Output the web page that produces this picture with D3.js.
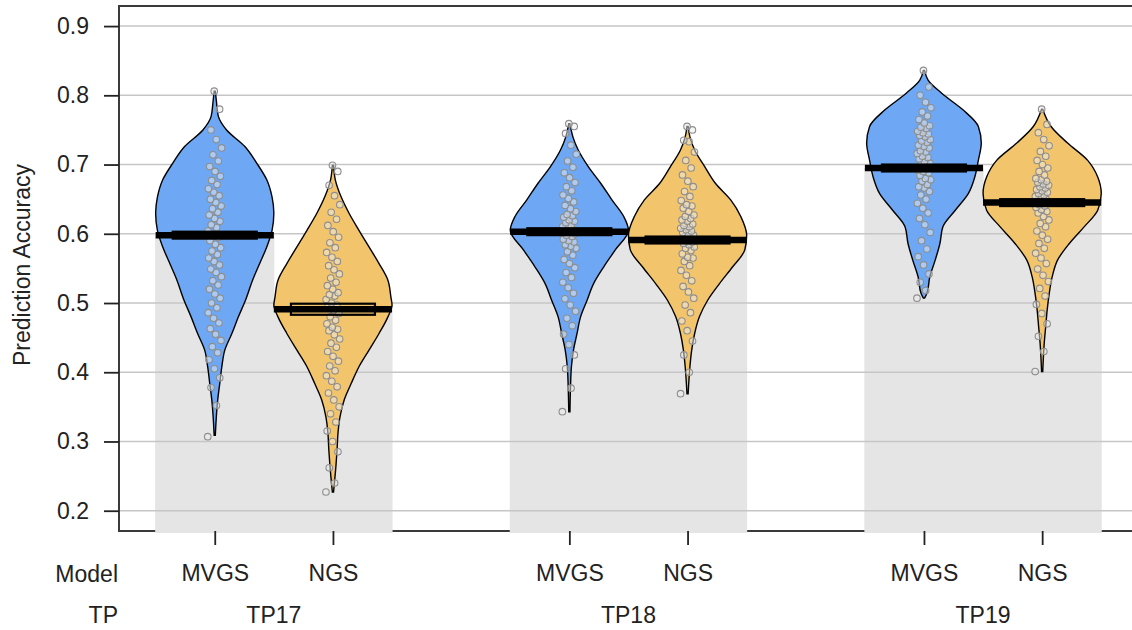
<!DOCTYPE html>
<html>
<head>
<meta charset="utf-8">
<script src="https://cdn.jsdelivr.net/npm/d3@7"></script>
<style>
  html, body { margin: 0; padding: 0; background: #fff; }
  svg { display: block; font-family: 'Liberation Sans', Arial, sans-serif; }
</style>
</head>
<body>
<div id="chart"></div>
<script>
// ---- data ----
const tps = ['TP17', 'TP18', 'TP19'];
const models = ['MVGS', 'NGS'];
const yTicks = [0.2, 0.3, 0.4, 0.5, 0.6, 0.7, 0.8, 0.9];

// mean (avg line + bar height), and inference band
const means = [0.598, 0.491, 0.603, 0.591, 0.695, 0.645];
const infLow = [0.593, 0.483, 0.598, 0.586, 0.690, 0.640];
const infHigh = [0.603, 0.499, 0.608, 0.596, 0.700, 0.650];

// bean outlines: [value, relative density]
const dens17M = [[0.309, 0.01], [0.36, 0.05], [0.384, 0.085], [0.408, 0.12], [0.432, 0.17], [0.456, 0.29], [0.48, 0.4], [0.504, 0.52], [0.533, 0.64], [0.557, 0.76], [0.581, 0.88], [0.605, 0.97], [0.63, 1.0], [0.653, 0.97], [0.678, 0.88], [0.702, 0.71], [0.726, 0.51], [0.75, 0.2], [0.77, 0.06], [0.79, 0.03], [0.806, 0.01]];
const dens17N = [[0.227, 0.01], [0.264, 0.05], [0.288, 0.07], [0.312, 0.085], [0.336, 0.12], [0.36, 0.19], [0.384, 0.31], [0.408, 0.44], [0.432, 0.61], [0.456, 0.78], [0.48, 0.93], [0.497, 1.0], [0.509, 0.98], [0.533, 0.93], [0.557, 0.78], [0.581, 0.61], [0.605, 0.44], [0.63, 0.27], [0.653, 0.14], [0.678, 0.04], [0.699, 0.01]];
const dens18M = [[0.343, 0.01], [0.38, 0.02], [0.408, 0.035], [0.432, 0.07], [0.456, 0.13], [0.48, 0.19], [0.504, 0.3], [0.528, 0.41], [0.552, 0.58], [0.577, 0.78], [0.605, 1.0], [0.625, 0.92], [0.649, 0.72], [0.673, 0.53], [0.697, 0.32], [0.721, 0.15], [0.74, 0.06], [0.759, 0.01]];
const dens18N = [[0.369, 0.01], [0.408, 0.04], [0.432, 0.07], [0.456, 0.12], [0.48, 0.2], [0.504, 0.34], [0.528, 0.54], [0.552, 0.76], [0.577, 0.97], [0.598, 1.0], [0.625, 0.9], [0.649, 0.73], [0.673, 0.47], [0.697, 0.29], [0.721, 0.12], [0.74, 0.04], [0.755, 0.01]];
const dens19M = [[0.507, 0.01], [0.514, 0.05], [0.538, 0.1], [0.562, 0.19], [0.586, 0.27], [0.61, 0.32], [0.634, 0.53], [0.658, 0.75], [0.682, 0.86], [0.706, 0.92], [0.731, 0.97], [0.755, 0.92], [0.779, 0.66], [0.803, 0.3], [0.822, 0.07], [0.836, 0.01]];
const dens19N = [[0.401, 0.01], [0.442, 0.035], [0.466, 0.06], [0.49, 0.085], [0.514, 0.12], [0.538, 0.17], [0.562, 0.26], [0.586, 0.46], [0.61, 0.71], [0.634, 0.94], [0.658, 1.0], [0.682, 0.94], [0.706, 0.77], [0.731, 0.43], [0.755, 0.15], [0.78, 0.01]];

// raw accuracies (points)
const pts17M = [0.307, 0.352, 0.378, 0.392, 0.405, 0.418, 0.428, 0.437, 0.446, 0.455, 0.463, 0.471, 0.478, 0.486, 0.493, 0.5, 0.507, 0.513, 0.52, 0.526, 0.532, 0.538, 0.544, 0.549, 0.555, 0.56, 0.565, 0.57, 0.575, 0.58, 0.585, 0.59, 0.595, 0.6, 0.604, 0.609, 0.613, 0.618, 0.622, 0.627, 0.631, 0.636, 0.64, 0.645, 0.65, 0.655, 0.66, 0.665, 0.671, 0.677, 0.683, 0.69, 0.697, 0.705, 0.714, 0.724, 0.736, 0.75, 0.78, 0.806];
const pts17N = [0.227, 0.24, 0.262, 0.285, 0.3, 0.315, 0.328, 0.34, 0.35, 0.36, 0.37, 0.379, 0.387, 0.395, 0.402, 0.409, 0.416, 0.423, 0.43, 0.436, 0.442, 0.448, 0.454, 0.46, 0.462, 0.465, 0.47, 0.475, 0.48, 0.485, 0.49, 0.495, 0.497, 0.5, 0.505, 0.51, 0.512, 0.515, 0.52, 0.525, 0.53, 0.536, 0.542, 0.548, 0.554, 0.56, 0.566, 0.573, 0.58, 0.587, 0.595, 0.603, 0.612, 0.621, 0.631, 0.642, 0.655, 0.67, 0.69, 0.699];
const pts18M = [0.343, 0.377, 0.405, 0.425, 0.44, 0.455, 0.467, 0.478, 0.488, 0.497, 0.506, 0.514, 0.522, 0.53, 0.537, 0.544, 0.551, 0.557, 0.563, 0.569, 0.574, 0.579, 0.582, 0.584, 0.588, 0.59, 0.592, 0.596, 0.598, 0.6, 0.602, 0.604, 0.606, 0.608, 0.61, 0.612, 0.616, 0.618, 0.62, 0.624, 0.626, 0.628, 0.632, 0.636, 0.641, 0.646, 0.651, 0.656, 0.662, 0.668, 0.674, 0.681, 0.688, 0.696, 0.705, 0.715, 0.728, 0.745, 0.755, 0.759];
const pts18N = [0.369, 0.4, 0.425, 0.445, 0.46, 0.474, 0.486, 0.497, 0.507, 0.516, 0.524, 0.532, 0.54, 0.547, 0.554, 0.56, 0.565, 0.566, 0.571, 0.576, 0.579, 0.581, 0.584, 0.586, 0.588, 0.59, 0.592, 0.594, 0.596, 0.598, 0.6, 0.602, 0.604, 0.606, 0.608, 0.61, 0.612, 0.614, 0.618, 0.62, 0.622, 0.625, 0.627, 0.632, 0.637, 0.64, 0.642, 0.648, 0.654, 0.661, 0.668, 0.676, 0.685, 0.695, 0.706, 0.718, 0.733, 0.735, 0.75, 0.755];
const pts19M = [0.507, 0.518, 0.53, 0.542, 0.555, 0.567, 0.578, 0.59, 0.602, 0.613, 0.622, 0.63, 0.637, 0.644, 0.65, 0.656, 0.661, 0.666, 0.668, 0.671, 0.676, 0.678, 0.68, 0.684, 0.688, 0.69, 0.692, 0.696, 0.7, 0.702, 0.704, 0.708, 0.71, 0.712, 0.716, 0.718, 0.72, 0.724, 0.726, 0.728, 0.732, 0.734, 0.736, 0.74, 0.742, 0.744, 0.746, 0.748, 0.752, 0.754, 0.756, 0.76, 0.765, 0.77, 0.776, 0.782, 0.79, 0.8, 0.812, 0.836];
const pts19N = [0.401, 0.43, 0.452, 0.47, 0.485, 0.498, 0.51, 0.521, 0.531, 0.54, 0.549, 0.557, 0.565, 0.572, 0.579, 0.586, 0.592, 0.598, 0.604, 0.61, 0.615, 0.62, 0.625, 0.63, 0.632, 0.635, 0.638, 0.64, 0.642, 0.644, 0.646, 0.648, 0.65, 0.652, 0.654, 0.656, 0.658, 0.66, 0.662, 0.664, 0.666, 0.668, 0.67, 0.672, 0.674, 0.676, 0.678, 0.68, 0.685, 0.69, 0.695, 0.7, 0.706, 0.712, 0.719, 0.727, 0.736, 0.746, 0.758, 0.78];

const densities = [dens17M, dens17N, dens18M, dens18N, dens19M, dens19N];
const points = [pts17M, pts17N, pts18M, pts18N, pts19M, pts19N];

// ---- layout ----
const width = 1132;
const height = 630;
const plotLeft = 119, plotTop = 6, plotBottom = 531, plotRight = 1140;
const beanColors = { MVGS: '#6ea8f4', NGS: '#f2c56d' };

// group table built from the arrays above
const groups = [];
tps.forEach((tp, ti) => {
  models.forEach((m, mi) => {
    const i = ti * 2 + mi;
    groups.push({
      tp, model: m,
      pos: ti * 3 + mi + 1,
      mean: means[i], lo: infLow[i], hi: infHigh[i],
      dens: densities[i], pts: points[i],
    });
  });
});

const svg = d3.select('#chart').append('svg')
  .attr('width', width).attr('height', height);

const x = d3.scaleLinear().domain([0.19, 8.76]).range([plotLeft, 1132]);
const y = d3.scaleLinear().domain([0.1707, 0.929]).range([plotBottom, plotTop]);
const unit = x(2) - x(1);
const w = d3.scaleLinear().domain([0, 1]).range([0, unit * 0.5]);

// box
svg.append('path')
  .attr('d', `M${plotRight},${plotTop}H${plotLeft}V${plotBottom}H${plotRight}`)
  .attr('fill', 'none').attr('stroke', '#3a3a3a').attr('stroke-width', 2);

// bars (mean height)
svg.append('g').selectAll('rect')
  .data(groups).join('rect')
  .attr('x', d => x(d.pos - 0.5) - 0.5)
  .attr('width', unit + 1)
  .attr('y', d => y(d.mean))
  .attr('height', d => plotBottom + 2 - y(d.mean))
  .attr('fill', '#e5e5e5');

// grid
svg.append('g').selectAll('line')
  .data(yTicks).join('line')
  .attr('x1', plotLeft + 1).attr('x2', plotRight)
  .attr('y1', d => y(d)).attr('y2', d => y(d))
  .attr('stroke', '#c6c6c6').attr('stroke-width', 1.5);

// beans
const bean = d3.area()
  .curve(d3.curveMonotoneY)
  .y(d => y(d[0]));

svg.append('g').selectAll('path')
  .data(groups).join('path')
  .attr('d', g => bean
    .x0(d => x(g.pos) - w(d[1]))
    .x1(d => x(g.pos) + w(d[1]))(g.dens))
  .attr('fill', g => beanColors[g.model])
  .attr('stroke', '#000')
  .attr('stroke-width', 1.4);

// jittered points
const pg = svg.append('g');
groups.forEach(g => {
  pg.append('g').selectAll('circle')
    .data(g.pts).join('circle')
    .attr('cx', (d, i) => x(g.pos) + (((i * 0.618034) % 1) - 0.5) * 14)
    .attr('cy', d => y(d))
    .attr('r', 3.3)
    .attr('fill', 'rgba(235,235,235,0.5)')
    .attr('stroke', '#8e8e8e')
    .attr('stroke-width', 1.1);
});

// avg line
svg.append('g').selectAll('line')
  .data(groups).join('line')
  .attr('x1', d => x(d.pos - 0.5)).attr('x2', d => x(d.pos + 0.5))
  .attr('y1', d => y(d.mean)).attr('y2', d => y(d.mean))
  .attr('stroke', '#000').attr('stroke-width', 6.5);

// inference band
svg.append('g').selectAll('rect')
  .data(groups).join('rect')
  .attr('x', d => x(d.pos) - 42)
  .attr('width', 84)
  .attr('y', d => y(d.hi))
  .attr('height', d => y(d.lo) - y(d.hi))
  .attr('fill', 'none')
  .attr('stroke', '#000')
  .attr('stroke-width', 2.2);

// y axis
const yAxis = svg.append('g')
  .attr('transform', `translate(${plotLeft},0)`)
  .call(d3.axisLeft(y).tickValues(yTicks).tickFormat(d3.format('.1f')).tickSize(15).tickPadding(15));
yAxis.select('.domain').remove();
yAxis.selectAll('line').attr('stroke', '#222').attr('stroke-width', 1.8);
yAxis.selectAll('text').attr('font-size', 23).attr('fill', '#222')
  .attr('font-family', "'Liberation Sans', Arial, sans-serif");

// x axis
const xAxis = svg.append('g')
  .attr('transform', `translate(0,${plotBottom})`)
  .call(d3.axisBottom(x).tickValues(groups.map(d => d.pos))
    .tickFormat((d, i) => groups[i].model).tickSize(14).tickPadding(20));
xAxis.select('.domain').remove();
xAxis.selectAll('line').attr('stroke', '#222').attr('stroke-width', 1.8);
xAxis.selectAll('text').attr('font-size', 23).attr('fill', '#222')
  .attr('font-family', "'Liberation Sans', Arial, sans-serif");

// row labels
svg.append('text').attr('x', 118).attr('y', 581.5)
  .attr('text-anchor', 'end').attr('font-size', 23).attr('fill', '#222').text('Model');
svg.append('text').attr('x', 118).attr('y', 623)
  .attr('text-anchor', 'end').attr('font-size', 23).attr('fill', '#222').text('TP');
svg.append('g').selectAll('text')
  .data(tps).join('text')
  .attr('x', (d, i) => x(i * 3 + 1.5))
  .attr('y', 623)
  .attr('text-anchor', 'middle').attr('font-size', 23).attr('fill', '#222')
  .text(d => d);

// y title
svg.append('text')
  .attr('transform', 'translate(29.5,265) rotate(-90)')
  .attr('text-anchor', 'middle')
  .attr('font-size', 23).attr('fill', '#222')
  .text('Prediction Accuracy');
</script>
</body>
</html>
